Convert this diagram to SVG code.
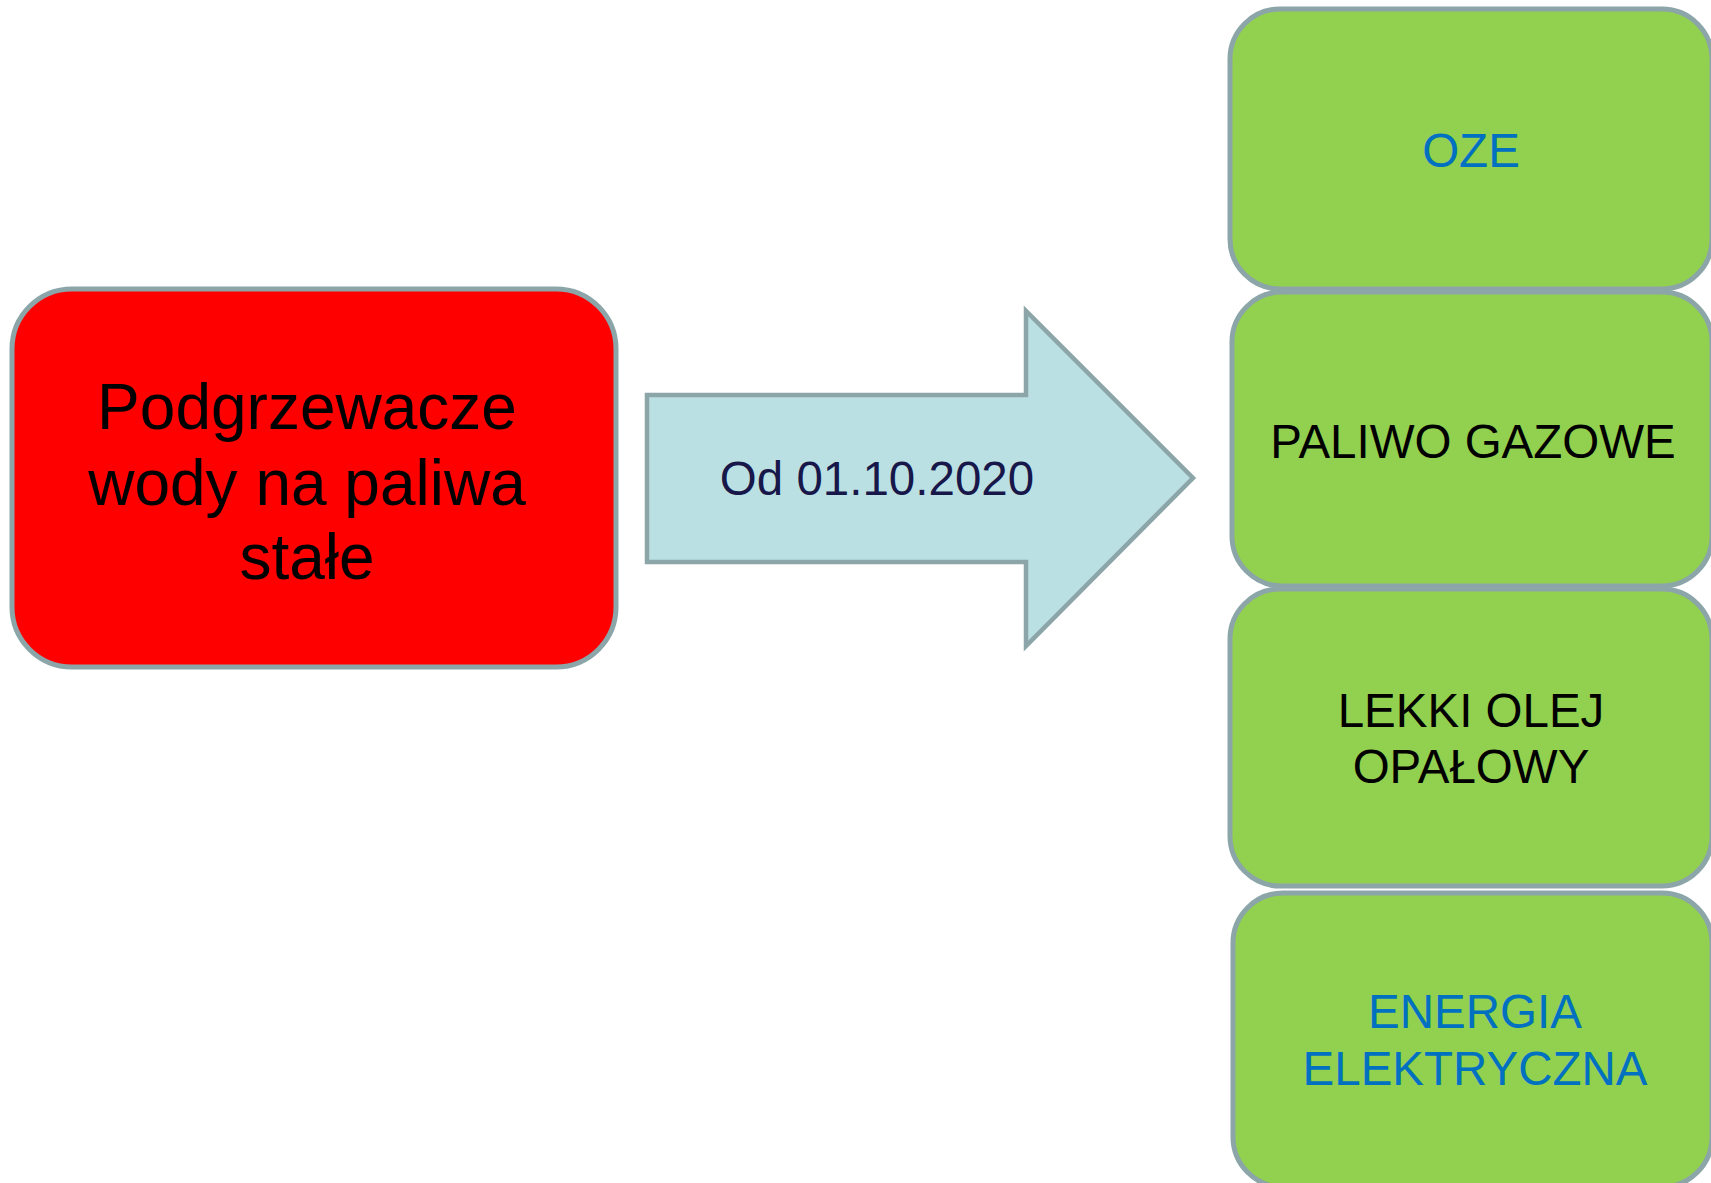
<svg xmlns="http://www.w3.org/2000/svg" width="1711" height="1183" viewBox="0 0 1711 1183">
<style>
.box{stroke:#8BA5A8;stroke-width:5}
.red{fill:#FF0000}
.green{fill:#92D050}
.t{font-family:"Liberation Sans",Arial,sans-serif;text-anchor:middle}
.blk{fill:#000000}
.blue{fill:#0070C0}
</style>
<rect width="1711" height="1183" fill="#FFFFFF"/>
<g id="connectors">
<g id="arrow">
<polygon points="647,395 1026,395 1026,311 1193,478 1026,646 1026,562 647,562" fill="#BBE0E3" stroke="#8BA5A8" stroke-width="4.5"/>
<text class="t" x="877" y="495" font-size="47.5" fill="#17174A">Od 01.10.2020</text>
</g>
</g>
<g id="node-podgrzewacze">
<rect class="box red" x="12" y="289" width="604" height="378" rx="60" ry="60"/>
<text class="t blk" font-size="64"><tspan x="307" y="429">Podgrzewacze</tspan><tspan x="307" y="505">wody na paliwa</tspan><tspan x="307" y="579">stałe</tspan></text>
</g>
<g id="node-oze">
<rect class="box green" x="1230" y="9" width="482" height="280" rx="50" ry="50"/>
<text class="t blue" x="1471" y="167" font-size="47.5">OZE</text>
</g>
<g id="node-gaz">
<rect class="box green" x="1232" y="292" width="480" height="294" rx="50" ry="50"/>
<text class="t blk" x="1473" y="458" font-size="47.5">PALIWO GAZOWE</text>
</g>
<g id="node-olej">
<rect class="box green" x="1230" y="589" width="482" height="297" rx="50" ry="50"/>
<text class="t blk" font-size="47.5"><tspan x="1471" y="727">LEKKI OLEJ</tspan><tspan x="1471" y="783">OPAŁOWY</tspan></text>
</g>
<g id="node-energia">
<rect class="box green" x="1233" y="893" width="479" height="294" rx="50" ry="50"/>
<text class="t blue" font-size="47.5"><tspan x="1475" y="1028">ENERGIA</tspan><tspan x="1475" y="1085">ELEKTRYCZNA</tspan></text>
</g>
</svg>
